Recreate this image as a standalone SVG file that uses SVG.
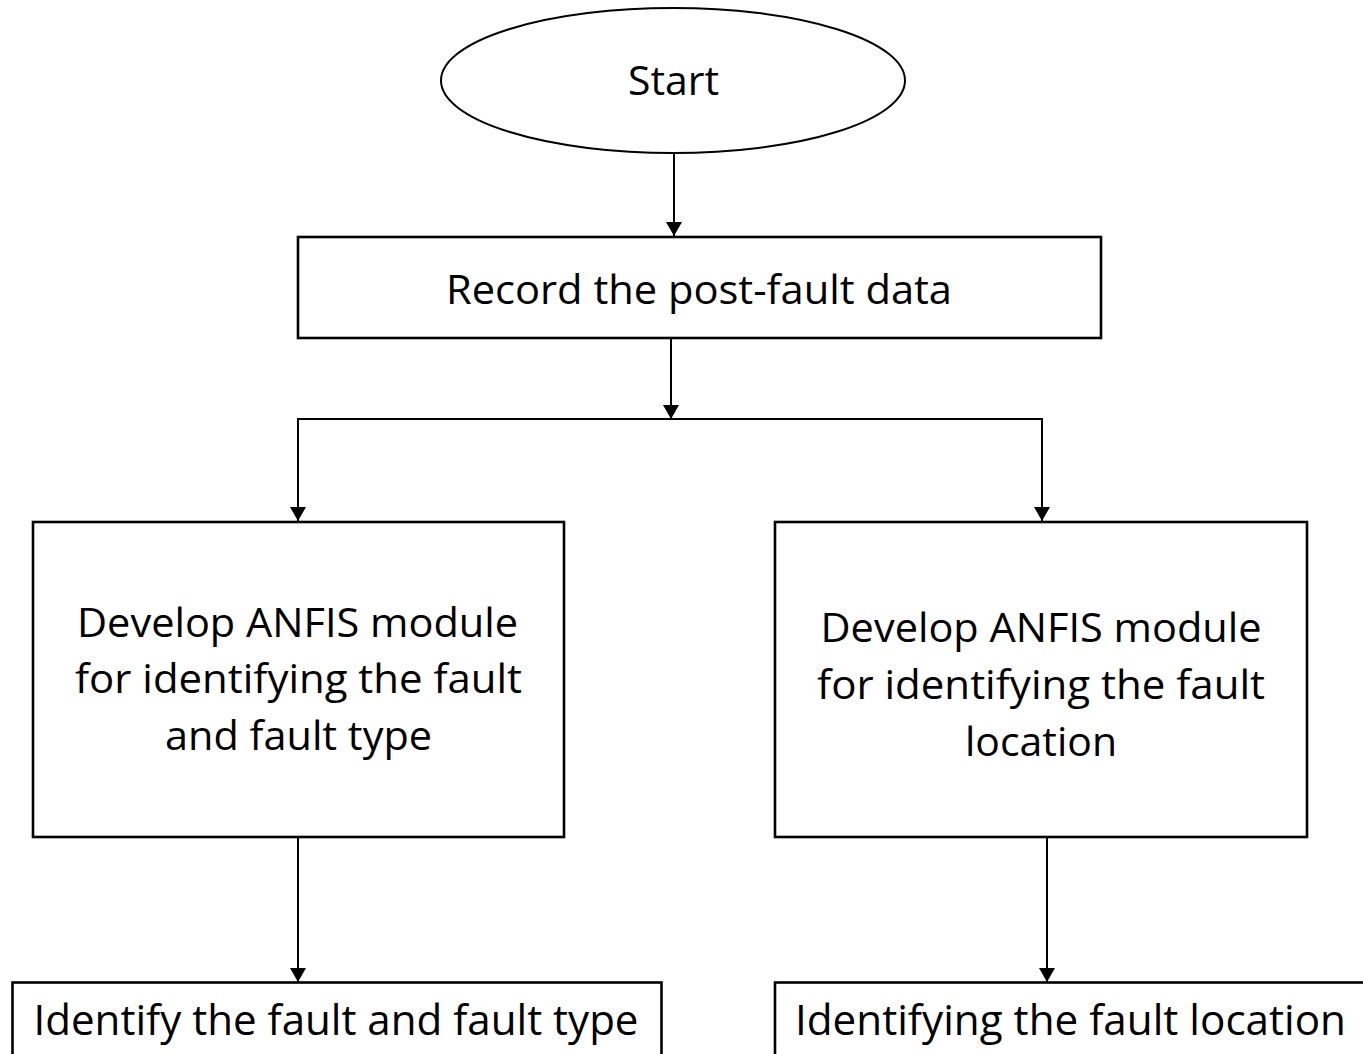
<svg xmlns="http://www.w3.org/2000/svg" width="1363" height="1054" viewBox="0 0 1363 1054">
<style>
.box{fill:#fff;stroke:#000;stroke-width:2.6}
.conn{fill:none;stroke:#000;stroke-width:2}
.t{font-family:"Open Sans","Liberation Sans",sans-serif;font-size:40px;fill:#000;text-anchor:middle}
.tb{font-size:42px}
</style>
<defs>
<marker id="ah" markerUnits="userSpaceOnUse" markerWidth="16" markerHeight="18" refX="14" refY="8" orient="auto">
<path d="M0,0 L14,8 L0,16 z" fill="#000"/>
</marker>
</defs>
<rect width="1363" height="1054" fill="#fff"/>
<g id="connectors">
<line class="conn" x1="674" y1="153" x2="674" y2="236" marker-end="url(#ah)"/>
<line class="conn" x1="671" y1="338" x2="671" y2="419" marker-end="url(#ah)"/>
<polyline class="conn" points="298,520 298,419 1042,419 1042,520"/>
<line class="conn" x1="298" y1="500" x2="298" y2="521" marker-end="url(#ah)"/>
<line class="conn" x1="1042" y1="500" x2="1042" y2="521" marker-end="url(#ah)"/>
<line class="conn" x1="298" y1="837" x2="298" y2="982" marker-end="url(#ah)"/>
<line class="conn" x1="1047" y1="837" x2="1047" y2="982" marker-end="url(#ah)"/>
</g>
<g id="start">
<ellipse cx="673" cy="80.5" rx="232" ry="72.5" fill="#fff" stroke="#000" stroke-width="2"/>
<text class="t" x="673.5" y="95" textLength="91" lengthAdjust="spacingAndGlyphs">Start</text>
</g>
<g id="record">
<rect class="box" x="298" y="237" width="803" height="101"/>
<text class="t" x="699" y="304" textLength="506" lengthAdjust="spacingAndGlyphs">Record the post-fault data</text>
</g>
<g id="anfis-type">
<rect class="box" x="33" y="522" width="531" height="315"/>
<text class="t" x="297.5" y="637" textLength="441" lengthAdjust="spacingAndGlyphs">Develop ANFIS module</text>
<text class="t" x="298.5" y="693" textLength="447" lengthAdjust="spacingAndGlyphs">for identifying the fault</text>
<text class="t" x="298.5" y="750" textLength="267" lengthAdjust="spacingAndGlyphs">and fault type</text>
</g>
<g id="anfis-location">
<rect class="box" x="775" y="522" width="532" height="315"/>
<text class="t" x="1041" y="642" textLength="441" lengthAdjust="spacingAndGlyphs">Develop ANFIS module</text>
<text class="t" x="1041" y="699" textLength="448" lengthAdjust="spacingAndGlyphs">for identifying the fault</text>
<text class="t" x="1041" y="756" textLength="152" lengthAdjust="spacingAndGlyphs">location</text>
</g>
<g id="identify-type">
<rect class="box" x="12.5" y="982.5" width="649" height="100"/>
<text class="t tb" x="336" y="1035" textLength="605" lengthAdjust="spacingAndGlyphs">Identify the fault and fault type</text>
</g>
<g id="identify-location">
<rect class="box" x="775" y="982.5" width="620" height="100"/>
<text class="t tb" x="1070.5" y="1035" textLength="551" lengthAdjust="spacingAndGlyphs">Identifying the fault location</text>
</g>
</svg>
